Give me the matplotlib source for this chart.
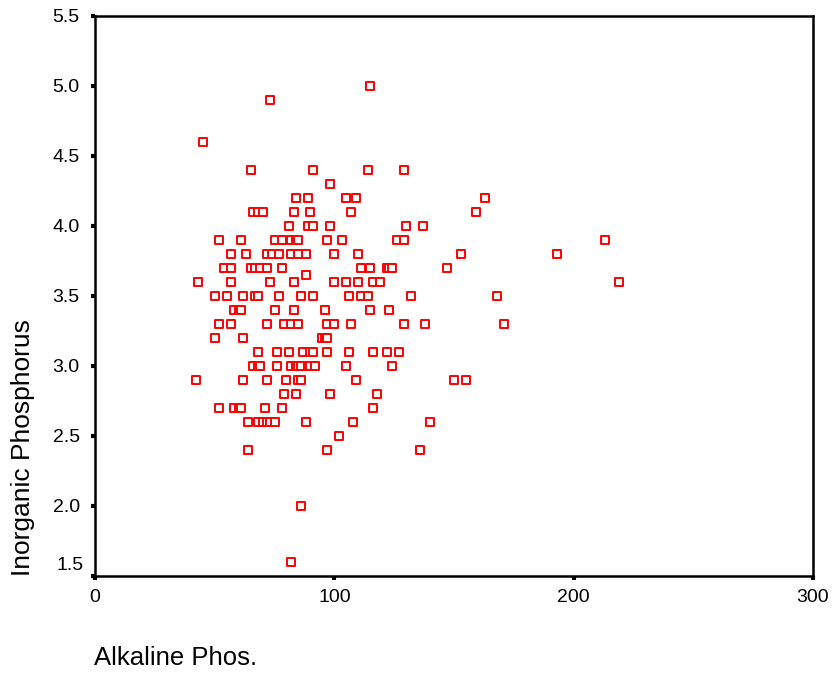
import numpy as np
import matplotlib
matplotlib.use("Agg")
import matplotlib.pyplot as plt
import matplotlib.transforms as mtransforms

plt.rcParams['font.family'] = ['Liberation Sans', 'DejaVu Sans']

# alkaline phosphatase (x) and inorganic phosphorus (y)
alk = [45, 73, 115,
       65, 91, 114, 129,
       98,
       84, 89, 105, 109, 163,
       66, 68, 70, 83, 90, 107, 159,
       81, 89, 91, 98, 130, 137,
       52, 61, 75, 78, 82, 84, 85, 97, 103, 126, 129, 213,
       57, 63, 72, 74, 77, 82, 85, 88, 100, 110, 153, 193,
       54, 57, 65, 67, 69, 72, 78, 111, 115, 122, 123, 124, 147,
       88,
       43, 57, 73, 83, 100, 105, 110, 116, 119, 219,
       50, 55, 62, 67, 68, 77, 86, 91, 106, 111, 114, 132, 168,
       58, 60, 61, 75, 83, 96, 115, 123,
       52, 57, 72, 79, 82, 85, 97, 100, 107, 129, 138, 171,
       50, 62, 95, 96, 97,
       68, 76, 81, 87, 90, 91, 97, 106, 116, 122, 127,
       66, 68, 69, 76, 82, 84, 85, 86, 89, 90, 92, 105, 124,
       42, 62, 72, 80, 85, 86, 109, 150, 155,
       79, 84, 98, 118,
       52, 58, 60, 61, 71, 78, 116,
       64, 68, 70, 72, 73, 75, 88, 108, 140,
       102,
       64, 97, 136,
       86,
       82]

phos = [4.6, 4.9, 5.0,
        4.4, 4.4, 4.4, 4.4,
        4.3,
        4.2, 4.2, 4.2, 4.2, 4.2,
        4.1, 4.1, 4.1, 4.1, 4.1, 4.1, 4.1,
        4.0, 4.0, 4.0, 4.0, 4.0, 4.0,
        3.9, 3.9, 3.9, 3.9, 3.9, 3.9, 3.9, 3.9, 3.9, 3.9, 3.9, 3.9,
        3.8, 3.8, 3.8, 3.8, 3.8, 3.8, 3.8, 3.8, 3.8, 3.8, 3.8, 3.8,
        3.7, 3.7, 3.7, 3.7, 3.7, 3.7, 3.7, 3.7, 3.7, 3.7, 3.7, 3.7, 3.7,
        3.65,
        3.6, 3.6, 3.6, 3.6, 3.6, 3.6, 3.6, 3.6, 3.6, 3.6,
        3.5, 3.5, 3.5, 3.5, 3.5, 3.5, 3.5, 3.5, 3.5, 3.5, 3.5, 3.5, 3.5,
        3.4, 3.4, 3.4, 3.4, 3.4, 3.4, 3.4, 3.4,
        3.3, 3.3, 3.3, 3.3, 3.3, 3.3, 3.3, 3.3, 3.3, 3.3, 3.3, 3.3,
        3.2, 3.2, 3.2, 3.2, 3.2,
        3.1, 3.1, 3.1, 3.1, 3.1, 3.1, 3.1, 3.1, 3.1, 3.1, 3.1,
        3.0, 3.0, 3.0, 3.0, 3.0, 3.0, 3.0, 3.0, 3.0, 3.0, 3.0, 3.0, 3.0,
        2.9, 2.9, 2.9, 2.9, 2.9, 2.9, 2.9, 2.9, 2.9,
        2.8, 2.8, 2.8, 2.8,
        2.7, 2.7, 2.7, 2.7, 2.7, 2.7, 2.7,
        2.6, 2.6, 2.6, 2.6, 2.6, 2.6, 2.6, 2.6, 2.6,
        2.5,
        2.4, 2.4, 2.4,
        2.0,
        1.6]

xticks = [0, 100, 200, 300]
yticks = [1.5, 2.0, 2.5, 3.0, 3.5, 4.0, 4.5, 5.0, 5.5]

fig = plt.figure(figsize=(8.33, 6.74), dpi=100)
ax = fig.add_axes([95 / 833, 1 - 576 / 674, (813 - 95) / 833, (576 - 16) / 674])

ax.scatter(alk, phos, marker='s', s=32, facecolors='white',
           edgecolors='#ff0000', linewidths=1.4, zorder=3)

ax.set_xlim(0, 300)
ax.set_ylim(1.5, 5.5)
ax.set_xticks(xticks)
ax.set_xticklabels([str(t) for t in xticks])
ax.set_yticks(yticks)
# the lowest label sits a little above its tick, as in the original
ax.set_yticklabels(['' if t == 1.5 else f"{t:.1f}" for t in yticks])

for sp in ax.spines.values():
    sp.set_linewidth(1.8)
ax.tick_params(direction='out', length=3, width=3, labelsize=14, pad=8)
ax.tick_params(axis='x', pad=6)

off = mtransforms.offset_copy(ax.get_yaxis_transform(), fig=fig, x=-11, y=11, units='dots')
ax.text(0, 1.5, '1.5', transform=off, ha='right', va='center', fontsize=14)

fig.text(94 / 833, 1 - 658 / 674, 'Alkaline Phos.', ha='left', va='center', fontsize=18.5)
fig.text(23 / 833, 1 - 448 / 674, 'Inorganic Phosphorus', rotation=90,
         ha='center', va='center', fontsize=19)

fig.savefig('out.png', dpi=100)
